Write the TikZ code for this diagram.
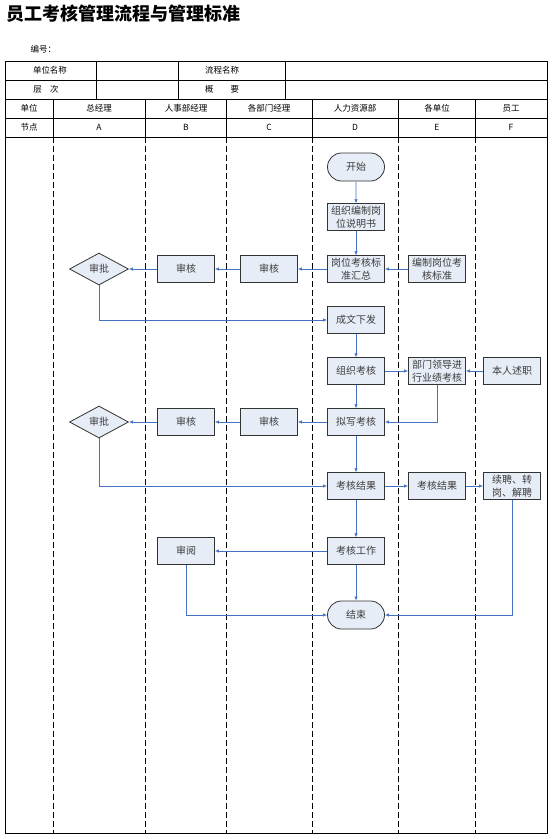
\documentclass[tikz,border=0pt]{standalone}
\usepackage{fontspec}
\setmainfont{Noto Sans CJK SC}
\usepackage{xcolor}
\usetikzlibrary{arrows.meta,shapes.geometric,shapes.misc}
\definecolor{flowblue}{HTML}{4472C4}
\definecolor{boxfill}{HTML}{E7EDF7}
\definecolor{boxtext}{HTML}{3C3C3C}

\begin{document}
\begin{tikzpicture}[x=1pt,y=-1pt,
  box/.style={draw=black!80,fill=boxfill,line width=0.8pt,minimum width=57pt,
    minimum height=26.5pt,inner sep=1pt,align=center,text=boxtext,
    font=\fontsize{10}{12.5}\selectfont},
  term/.style={box,rounded rectangle,minimum width=59pt,minimum height=28pt},
  dec/.style={box,diamond,minimum width=59pt,minimum height=32pt,inner sep=0pt},
  arr/.style={-{Latex[length=4pt,width=3.5pt]},flowblue,line width=0.7pt},
  hd/.style={font=\fontsize{8.5}{10}\selectfont},
  lane/.style={dash pattern=on 6pt off 3pt,line width=0.7pt}]
  \useasboundingbox (0,0) rectangle (553,839);
  % Title
  \node[anchor=west,font=\fontsize{18}{20}\selectfont\bfseries] (title) at (3,14) {员工考核管理流程与管理标准};
  \node[hd,anchor=west] (code) at (27,49) {编号：};
  % Header table
  \draw[line width=0.7pt] (5,61) rectangle (547,137);
  \foreach \y in {80,99,118} \draw[line width=0.7pt] (5,\y) -- (547,\y);
  \foreach \x in {96,178,285} \draw[line width=0.7pt] (\x,61) -- (\x,99);
  \foreach \x in {53,145,226,312,398,475} \draw[line width=0.7pt] (\x,99) -- (\x,137);
  \node[hd] (hunit) at (50,70.5) {单位名称};
  \node[hd] (hflow) at (222,70.5) {流程名称};
  \node[hd] (hlevel) at (46,89.5) {层\quad 次};
  \node[hd] (hsum) at (222,89.5) {概\qquad 要};
  \node[hd] (hdept) at (29,108.5) {单位};
  \node[hd] (hnode) at (29,127.5) {节点};
  \foreach \x/\t/\c in {99/总经理/A,186/人事部经理/B,269/各部门经理/C,355/人力资源部/D,437/各单位/E,511/员工/F}{
    \node[hd] (h\c) at (\x,108.5) {\t};
    \node[hd] (n\c) at (\x,127.5) {\c};
  }
  % Swim lanes
  \draw[line width=0.7pt] (5,137) rectangle (547,833);
  \foreach \x in {53,145,226,312,398,475} \draw[lane] (\x,137) -- (\x,833);
  % Nodes
  \node[term] (start) at (356,167) {开始};
  \node[box] (org) at (356,217) {组织编制岗\\位说明书};
  \node[box] (sum) at (356,269) {岗位考核标\\准汇总};
  \node[box] (std) at (437,269) {编制岗位考\\核标准};
  \node[box] (chkC) at (269,269) {审核};
  \node[box] (chkB) at (186,269) {审核};
  \node[dec] (appr) at (99,269) {审批};
  \node[box] (issue) at (356,320) {成文下发};
  \node[box] (orgexam) at (356,371) {组织考核};
  \node[box] (lead) at (437,371) {部门领导进\\行业绩考核};
  \node[box] (self) at (512,371) {本人述职};
  \node[box] (draft) at (356,422) {拟写考核};
  \node[box] (chkCb) at (269,422) {审核};
  \node[box] (chkBb) at (186,422) {审核};
  \node[dec] (apprb) at (99,422) {审批};
  \node[box] (resD) at (356,486) {考核结果};
  \node[box] (resE) at (437,486) {考核结果};
  \node[box] (fate) at (512,486) {续聘、转\\岗、解聘};
  \node[box] (review) at (186,551) {审阅};
  \node[box] (work) at (356,551) {考核工作};
  \node[term] (finish) at (356,615) {结束};
  % Connectors
  \draw[arr] (start) -- (org);
  \draw[arr] (org) -- (sum);
  \draw[arr] (std) -- (sum);
  \draw[arr] (sum) -- (chkC);
  \draw[arr] (chkC) -- (chkB);
  \draw[arr] (chkB) -- (appr);
  \draw[arr] (appr) |- (issue);
  \draw[arr] (issue) -- (orgexam);
  \draw[arr] (orgexam) -- (lead);
  \draw[arr] (self) -- (lead);
  \draw[arr] (orgexam) -- (draft);
  \draw[arr] (lead) |- (draft);
  \draw[arr] (draft) -- (chkCb);
  \draw[arr] (chkCb) -- (chkBb);
  \draw[arr] (chkBb) -- (apprb);
  \draw[arr] (apprb) |- (resD);
  \draw[arr] (draft) -- (resD);
  \draw[arr] (resD) -- (resE);
  \draw[arr] (resE) -- (fate);
  \draw[arr] (resD) -- (work);
  \draw[arr] (work) -- (review);
  \draw[arr] (work) -- (finish);
  \draw[arr] (review) |- (finish);
  \draw[arr] (fate) |- (finish);
\end{tikzpicture}
\end{document}
